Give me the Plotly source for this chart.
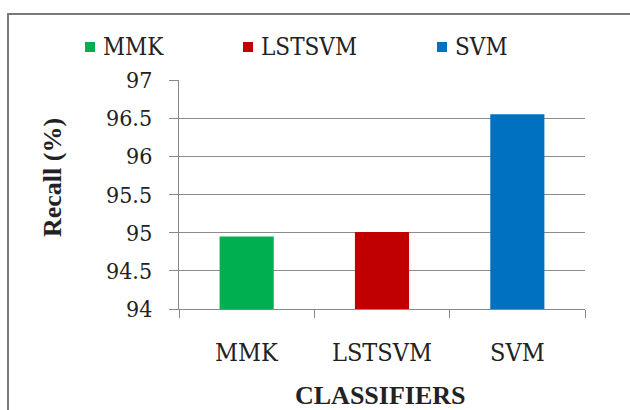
import plotly.graph_objects as go

categories = ["MMK", "LSTSVM", "SVM"]
recall = [94.95, 95.01, 96.55]
colors = ["#00B050", "#C00000", "#0070C0"]
y_ticks = [94, 94.5, 95, 95.5, 96, 96.5, 97]
y_ticklabels = ["94", "94.5", "95", "95.5", "96", "96.5", "97"]

W, H = 630, 410
L, R, T, B = 179, 45, 80, 101
pw, ph = W - L - R, H - T - B

def px_x(px):
    return (px - L) / pw

def px_y(py):
    return (H - B - py) / ph

BOLD_FONT = "Liberation Serif"
FONT = "DejaVu Serif Condensed, DejaVu Serif"
TXT = "#222222"

fig = go.Figure()
for cat, val, col in zip(categories, recall, colors):
    fig.add_trace(go.Bar(x=[cat], y=[val], name=cat, showlegend=False,
                         marker=dict(color=col, line=dict(width=0))))

annotations = [
    dict(text="<b>Recall (%)</b>", xref="paper", yref="paper", x=px_x(52), y=px_y(178),
         xanchor="center", yanchor="middle", textangle=-90, showarrow=False,
         font=dict(family=BOLD_FONT, size=26, color=TXT)),
    dict(text="<b>CLASSIFIERS</b>", xref="paper", yref="paper", x=px_x(380), y=px_y(395),
         xanchor="center", yanchor="middle", showarrow=False,
         font=dict(family=BOLD_FONT, size=26, color=TXT)),
]
# tick labels (placed on the library's axes)
for v, lab in zip(y_ticks, y_ticklabels):
    annotations.append(dict(text=lab, xref="paper", yref="y", x=px_x(154), y=v,
                            xanchor="right", yanchor="middle", showarrow=False,
                            font=dict(family=FONT, size=23, color=TXT)))
for cat in categories:
    annotations.append(dict(text=cat, xref="x", yref="paper", x=cat, y=px_y(352),
                            xanchor="center", yanchor="middle", showarrow=False,
                            font=dict(family=FONT, size=25, color=TXT)))

# legend (symbol + text per series)
legend_sym_x = [85, 243, 437]
shapes = [
    dict(type="rect", xref="paper", yref="paper", x0=px_x(8), x1=px_x(650), y0=px_y(430), y1=px_y(14),
         line=dict(color="#7a7a7a", width=2), fillcolor="rgba(0,0,0,0)", layer="below"),
]
for cat, col, sx in zip(categories, colors, legend_sym_x):
    shapes.append(dict(type="rect", xref="paper", yref="paper",
                       x0=px_x(sx), x1=px_x(sx + 10), y0=px_y(52), y1=px_y(42),
                       line=dict(width=0), fillcolor=col))
    annotations.append(dict(text=cat, xref="paper", yref="paper", x=px_x(sx + 16), y=px_y(47),
                            xanchor="left", yanchor="middle", showarrow=False,
                            font=dict(family=FONT, size=24, color=TXT)))

fig.update_layout(
    width=W, height=H,
    margin=dict(l=L, r=R, t=T, b=B, autoexpand=False),
    paper_bgcolor="white", plot_bgcolor="white",
    barmode="overlay", bargap=0.6,
    font=dict(family=FONT, size=23, color=TXT),
    showlegend=False,
    xaxis=dict(type="category", categoryorder="array", categoryarray=categories,
               showline=True, linecolor="#888888", linewidth=1,
               ticks="outside", tickson="boundaries", ticklen=8, tickcolor="#888888",
               showgrid=False, showticklabels=False),
    yaxis=dict(range=[94, 97], tickvals=y_ticks,
               showline=True, linecolor="#888888", linewidth=1,
               ticks="outside", ticklen=9, tickcolor="#888888",
               showgrid=True, gridcolor="#8c8c8c", gridwidth=1, zeroline=False,
               showticklabels=False),
    annotations=annotations,
    shapes=shapes,
)

fig.write_html("out.html")
